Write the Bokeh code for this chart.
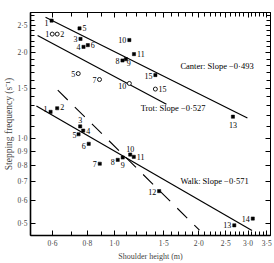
import numpy as np
from bokeh.plotting import figure
from bokeh.models import (Range1d, FixedTicker, CustomJSTickFormatter, LogAxis,
                          ColumnDataSource, Label)
from bokeh.core.properties import value
from bokeh.embed import file_html
from bokeh.resources import INLINE

SERIF = "Liberation Serif"

# Canter (filled squares)
canter_id = ["1", "5", "3", "4", "6", "10", "8", "9", "11", "15", "13"]
canter_height = [0.596, 0.750, 0.756, 0.775, 0.803, 1.13, 1.068, 1.098, 1.174, 1.40, 2.65]
canter_freq = [2.60, 2.44, 2.24, 2.10, 2.13, 2.22, 1.88, 1.90, 1.98, 1.67, 1.19]

# Trot (open circles)
trot_id = ["1", "2", "5", "7", "10", "15"]
trot_height = [0.599, 0.624, 0.742, 0.884, 1.13, 1.40]
trot_freq = [2.33, 2.33, 1.69, 1.61, 1.56, 1.49]

# Walk (filled squares)
walk_id = ["1", "2", "3", "4", "5", "6", "7", "8", "9", "10", "11", "12", "13", "14"]
walk_height = [0.591, 0.624, 0.754, 0.773, 0.744, 0.809, 0.886, 1.027, 1.07,
               1.138, 1.172, 1.444, 2.68, 3.12]
walk_freq = [1.238, 1.275, 1.10, 1.063, 1.032, 0.955, 0.812, 0.838, 0.854,
             0.875, 0.859, 0.65, 0.492, 0.52]

# Fitted power laws: freq = coef * height ** slope
canter_coef, canter_slope = 2.02, -0.493
trot_coef, trot_slope = 1.65, -0.527
walk_coef, walk_slope = 0.90, -0.571
canter_span = [0.567, 2.985]
trot_span = [0.531, 1.533]
walk_span = [0.526, 3.10]

# Dashed reference line
dash_height = [0.627, 2.012]
dash_freq = [1.477, 0.473]

x_major = [0.6, 0.8, 1.0, 1.5, 2.0, 2.5, 3.0, 3.5]
x_minor = [0.5, 0.7, 0.9, 1.1, 1.2, 1.3, 1.4, 1.6, 1.7, 1.8, 1.9, 2.1, 2.2, 2.3,
           2.4, 2.6, 2.7, 2.8, 2.9, 3.1, 3.2, 3.3, 3.4]
y_major = [0.5, 0.6, 0.7, 0.8, 0.9, 1.0, 1.5, 2.0, 2.5]
y_minor = [1.1, 1.2, 1.3, 1.4, 1.6, 1.7, 1.8, 1.9, 2.1, 2.2, 2.3, 2.4, 2.6, 2.7]

p = figure(width=274, height=263, x_axis_type="log", y_axis_type="log",
           x_range=Range1d(0.501, 3.61), y_range=Range1d(0.453, 2.777),
           output_backend="svg", toolbar_location=None,
           min_border_left=0, min_border_right=4, min_border_top=12,
           min_border_bottom=0)
p.grid.visible = False
p.outline_line_color = "black"
p.background_fill_color = "white"
p.border_fill_color = "white"

fmt = CustomJSTickFormatter(code="return tick.toFixed(1).replace('.', '\u00b7');")
blank = CustomJSTickFormatter(code="return '';")

for ax, major, minor in ((p.xaxis[0], x_major, x_minor), (p.yaxis[0], y_major, y_minor)):
    ax.ticker = FixedTicker(ticks=major, minor_ticks=minor)
    ax.formatter = fmt
    ax.major_tick_in = 5
    ax.major_tick_out = 0
    ax.minor_tick_in = 4
    ax.minor_tick_out = 0
    ax.axis_line_width = 1.6
    ax.major_label_text_font = SERIF
    ax.major_label_text_font_size = "7.5px"
    ax.major_label_standoff = 3
    ax.axis_label_text_font = SERIF
    ax.axis_label_text_font_style = "normal"
    ax.axis_label_standoff = 1

p.xaxis.axis_label = "Shoulder height (m)"
p.xaxis.axis_label_text_font_size = "8px"
p.yaxis.axis_label = "Stepping frequency (s\u207b\u00b9)"
p.yaxis.axis_label_text_font_size = "9.5px"

for side, major, minor in (("above", x_major, x_minor), ("right", y_major, y_minor)):
    ax = LogAxis(ticker=FixedTicker(ticks=major, minor_ticks=minor), formatter=blank,
                 major_tick_in=5, major_tick_out=0, minor_tick_in=4, minor_tick_out=0,
                 major_label_text_font_size="1px", major_label_standoff=0)
    p.add_layout(ax, side)

# Regression lines
for coef, slope, span in ((canter_coef, canter_slope, canter_span),
                          (trot_coef, trot_slope, trot_span),
                          (walk_coef, walk_slope, walk_span)):
    xs = np.array(span)
    p.line(xs, coef * xs ** slope, line_color="black", line_width=1.2)

p.line(dash_height, dash_freq, line_color="black", line_width=1.1, line_dash="14 10")

# Points
p.scatter(canter_height, canter_freq, marker="square", size=3.2,
          fill_color="black", line_color="black", line_width=0.5)
p.scatter(walk_height, walk_freq, marker="square", size=3.2,
          fill_color="black", line_color="black", line_width=0.5)
p.scatter(trot_height, trot_freq, marker="circle", size=4,
          fill_color="white", line_color="black", line_width=0.9)

# Point number labels: (dx, dy, align)
canter_pos = [(-3, 2, "right"), (3, 0, "left"), (-3, 0, "right"), (-3, 0, "right"),
              (3, 0, "left"), (-3, 0, "right"), (-3, 1, "right"), (1, 4, "left"),
              (3, 0, "left"), (-3, 1, "right"), (0, 8, "center")]
trot_pos = [(-3, 0, "right"), (3, 0, "left"), (-3, 0, "right"), (-3, 0, "right"),
            (-3, 3, "right"), (3, 0, "left")]
walk_pos = [(-3, -3, "right"), (3, -1, "left"), (0, -6, "center"), (3, 0, "left"),
            (-2, 1, "right"), (-3, 2, "right"), (-3, 0, "right"), (-3, 2, "right"),
            (0, 7, "center"), (0, -6, "center"), (3, 0, "left"), (-3, 1, "right"),
            (-3, 0, "right"), (-3, 0, "right")]

for ids, xs, ys, pos in ((canter_id, canter_height, canter_freq, canter_pos),
                         (trot_id, trot_height, trot_freq, trot_pos),
                         (walk_id, walk_height, walk_freq, walk_pos)):
    src = ColumnDataSource(dict(x=xs, y=ys, t=ids,
                                dx=[q[0] for q in pos], dy=[q[1] for q in pos],
                                al=[q[2] for q in pos]))
    p.text("x", "y", text="t", x_offset="dx", y_offset="dy", text_align="al",
           text_baseline="middle", text_font=value(SERIF), text_font_size="8px",
           text_color="black", source=src)

# Slope annotations
for x, y, txt in ((1.72, 1.80, "Canter: Slope \u22120\u00b7493"),
                  (1.24, 1.275, "Trot: Slope \u22120\u00b7527"),
                  (1.72, 0.704, "Walk: Slope \u22120\u00b7571")):
    p.add_layout(Label(x=x, y=y, text=txt, text_font=SERIF, text_font_size="8.5px",
                       text_baseline="middle", text_align="left", text_color="black"))

open("out.html", "w").write(file_html(p, INLINE))
